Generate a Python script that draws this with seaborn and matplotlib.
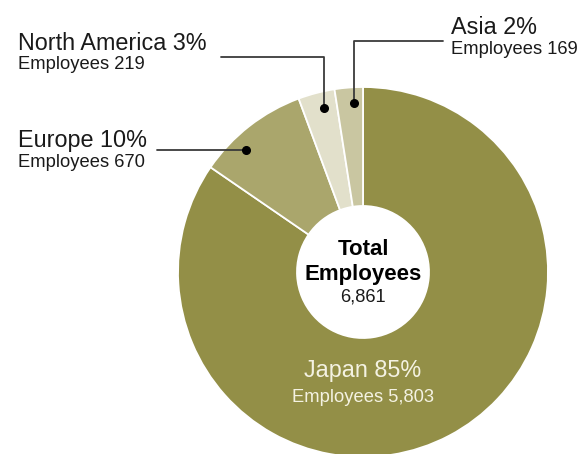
import numpy as np
import matplotlib
matplotlib.use('Agg')
import matplotlib.pyplot as plt
import seaborn as sns

# Data
regions = ['Japan', 'Europe', 'North America', 'Asia']
employees = [5803, 670, 219, 169]
percent_labels = ['85%', '10%', '3%', '2%']
colors = ['#938F47', '#AAA66C', '#E2E0CB', '#C9C6A1']
total_label = '6,861'

sns.set_theme(style='white')
plt.rcParams['font.family'] = ['Liberation Sans', 'DejaVu Sans']

W, H = 579, 454
fig = plt.figure(figsize=(W / 100, H / 100), dpi=100)
ax = fig.add_axes([0, 0, 1, 1])

# pixel y (from top) -> data y
def py(y):
    return H - y

cx, cy = 363, 272
R, r_in = 185, 66

wedges, _ = ax.pie(employees, colors=colors, startangle=90, counterclock=False,
                   radius=R, center=(cx, py(cy)),
                   wedgeprops={'width': R - r_in, 'edgecolor': 'white', 'linewidth': 1.3})

# pie resets the limits, so set them afterwards
ax.set_xlim(0, W)
ax.set_ylim(0, H)
ax.set_aspect('equal')
ax.axis('off')

# where along each wedge the leader dot sits (fraction of the wedge angle)
dot_frac = {1: 0.67, 2: 0.40, 3: 0.34}
dot_r = 169

def dot_xy(i):
    w = wedges[i]
    a = np.deg2rad(w.theta1 + (w.theta2 - w.theta1) * dot_frac[i])
    return cx + dot_r * np.cos(a), py(cy) + dot_r * np.sin(a)

line_kw = dict(color='#3a3a3a', lw=1.3, zorder=3)
dot_kw = dict(marker='o', ms=5.5, color='black', zorder=4)

# Europe
ex, ey = dot_xy(1)
ax.plot([157, ex], [ey, ey], **line_kw)
ax.plot([ex], [ey], **dot_kw)
# North America
nx, ny = dot_xy(2)
ax.plot([221, nx, nx], [py(57), py(57), ny], **line_kw)
ax.plot([nx], [ny], **dot_kw)
# Asia
sx, sy = dot_xy(3)
ax.plot([443, sx, sx], [py(41), py(41), sy], **line_kw)
ax.plot([sx], [sy], **dot_kw)

dark = '#1a1a1a'
big, small = 16.8, 13.2

ax.text(18, py(50), f'{regions[2]} {percent_labels[2]}', fontsize=big, color=dark, va='baseline')
ax.text(18, py(69), f'Employees {employees[2]:,}', fontsize=small, color=dark, va='baseline')

ax.text(451, py(34), f'{regions[3]} {percent_labels[3]}', fontsize=big, color=dark, va='baseline')
ax.text(451, py(54), f'Employees {employees[3]:,}', fontsize=small, color=dark, va='baseline')

ax.text(18, py(147), f'{regions[1]} {percent_labels[1]}', fontsize=big, color=dark, va='baseline')
ax.text(18, py(167), f'Employees {employees[1]:,}', fontsize=small, color=dark, va='baseline')

# Japan inside the ring
light = '#F4F2E2'
ax.text(cx, py(377), f'{regions[0]} {percent_labels[0]}', fontsize=16.8, color=light,
        ha='center', va='baseline')
ax.text(cx, py(402), f'Employees {employees[0]:,}', fontsize=small, color=light,
        ha='center', va='baseline')

# Centre total
ax.text(cx, py(255), 'Total', fontsize=16, fontweight='bold', color='black',
        ha='center', va='baseline')
ax.text(cx, py(280), 'Employees', fontsize=16, fontweight='bold', color='black',
        ha='center', va='baseline')
ax.text(cx, py(302), total_label, fontsize=13.2, color=dark, ha='center', va='baseline')

fig.savefig('out.png', dpi=100)
